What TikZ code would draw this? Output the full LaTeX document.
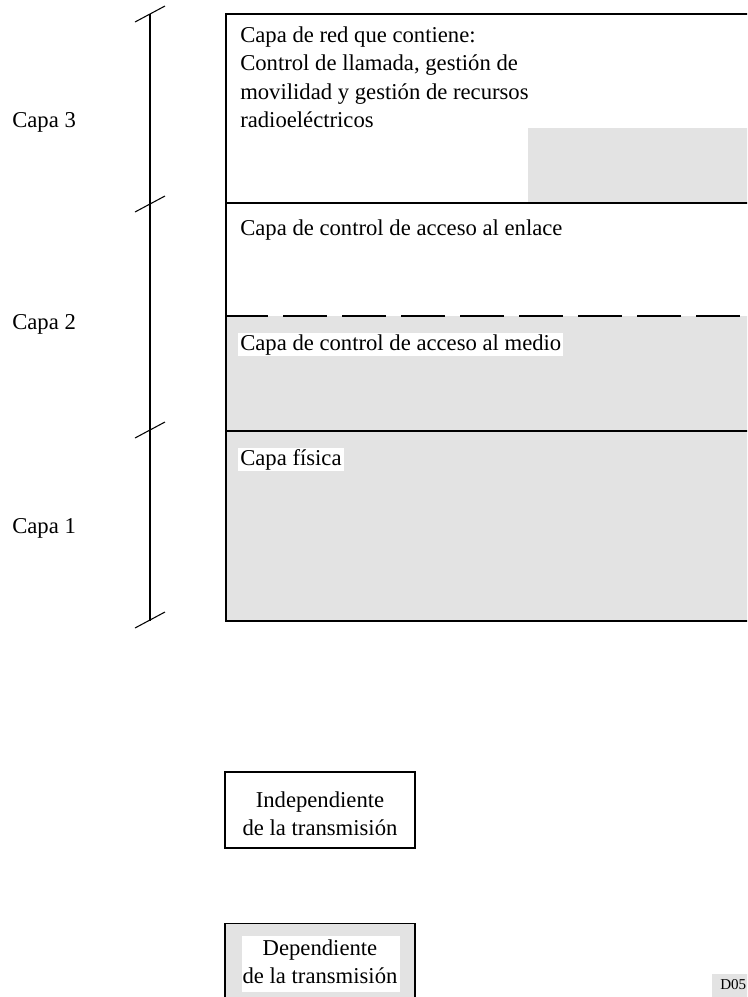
\documentclass[tikz,border=0pt]{standalone}
\usepackage{fontspec}
\setmainfont{Liberation Serif}
\definecolor{paneGray}{HTML}{E3E3E3}
\begin{document}
\begin{tikzpicture}[x=0.75pt,y=-0.75pt,
  outline/.style={line width=1.1pt},
  divider/.style={line width=1.5pt},
  axis/.style={line width=1.5pt},
  tickmark/.style={line width=0.8pt},
  shaded/.style={fill=paneGray},
  txt/.style={font=\fontsize{17}{21.2}\selectfont, inner sep=0.75pt, anchor=base west},
  whitetxt/.style={txt, fill=white, inner xsep=1.5pt, inner ysep=1pt},
  legendbox/.style={draw, line width=1.1pt, minimum width=142.5pt, minimum height=57pt, inner sep=0pt}]
\useasboundingbox (0,0) rectangle (747,997);
\begin{scope}
\clip (0,0) rectangle (747,997);
% shaded (transmission-dependent) regions
\fill[shaded] (226,316) rectangle (770,621);
\fill[shaded] (528,128) rectangle (770,203);
% layer stack outline and dividers
\draw[outline] (770,14) -- (226,14) -- (226,621) -- (770,621);
\draw[divider] (226,203) -- (770,203);
\draw[divider] (226,431) -- (770,431);
\draw[divider, dash pattern=on 33pt off 11.25pt, dash phase=1.5pt] (226,316) -- (770,316);
% layer scale on the left
\draw[axis] (150,14) -- (150,621);
\foreach \yy in {14,204,430,620}
  \draw[tickmark] (135,\yy+8) -- (165,\yy-8);
% layer labels
\node[txt] (c3) at (11,127) {Capa 3};
\node[txt] (c2) at (11,329) {Capa 2};
\node[txt] (c1) at (11,533) {Capa 1};
% texts inside the stack
\node[txt] (red1) at (239,42) {Capa de red que contiene:};
\node[txt] (red2) at (239,70.5) {Control de llamada, gestión de};
\node[txt] (red3) at (239,99) {movilidad y gestión de recursos};
\node[txt] (red4) at (239,127) {radioeléctricos};
\node[txt] (llc) at (239,235) {Capa de control de acceso al enlace};
\node[whitetxt] (mac) at (238,350) {Capa de control de acceso al medio};
\node[whitetxt] (phy) at (238,465) {Capa física};
% legend
\node[legendbox] (indep) at (320,810) {};
\node[txt, anchor=base] (indep1) at (320,807) {Independiente};
\node[txt, anchor=base] (indep2) at (320,835) {de la transmisión};
\node[legendbox, fill=paneGray, minimum height=80pt, anchor=north] (dep) at (320,923) {};
\fill[white] (242,936) rectangle (400,992);
\node[txt, anchor=base] (dep1) at (320,955) {Dependiente};
\node[txt, anchor=base] (dep2) at (320,983) {de la transmisión};
% figure code
\fill[shaded] (712,974) rectangle (770,1000);
\node[anchor=base west, font=\fontsize{11.3}{13}\selectfont, inner sep=0pt] (code) at (720,989) {D05};
\end{scope}
\end{tikzpicture}
\end{document}
